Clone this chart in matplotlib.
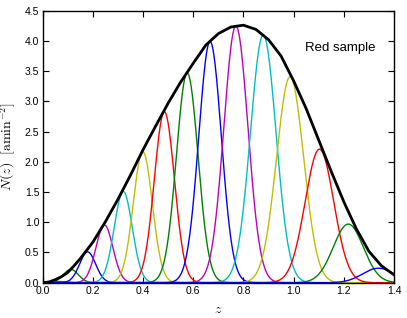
import numpy as np
import matplotlib
matplotlib.use("Agg")
import matplotlib.pyplot as plt

# Envelope N(z)
env_z = [0.00, 0.025, 0.05, 0.075, 0.10, 0.125, 0.15, 0.20, 0.25, 0.30, 0.35, 0.40, 0.45, 0.50,
         0.55, 0.60, 0.65, 0.70, 0.75, 0.80, 0.85, 0.90, 0.95, 1.00, 1.05, 1.10, 1.15, 1.20,
         1.25, 1.30, 1.35, 1.40]
env_n = [0.00, 0.012, 0.05, 0.10, 0.17, 0.28, 0.40, 0.67, 1.01, 1.38, 1.78, 2.20, 2.59, 2.97,
         3.32, 3.63, 3.93, 4.12, 4.23, 4.26, 4.19, 4.02, 3.75, 3.34, 2.88, 2.36, 1.84, 1.34,
         0.89, 0.52, 0.28, 0.13]

# Tomographic bins: centre, peak height, width
bin_centers = [0.062, 0.112, 0.179, 0.246, 0.321, 0.399, 0.485, 0.576, 0.667, 0.770,
               0.879, 0.986, 1.103, 1.218, 1.338]
bin_heights = [0.02, 0.22, 0.51, 0.955, 1.51, 2.17, 2.83, 3.47, 3.99, 4.25,
               4.10, 3.41, 2.21, 0.97, 0.24]
bin_widths = [0.028, 0.030, 0.032, 0.034, 0.036, 0.038, 0.040, 0.043, 0.045, 0.048,
              0.051, 0.054, 0.057, 0.060, 0.063]
bin_colors = ['r', 'g', 'b', 'm', 'c', 'y']

x_ticks = [0.0, 0.2, 0.4, 0.6, 0.8, 1.0, 1.2, 1.4]
y_ticks = [0.0, 0.5, 1.0, 1.5, 2.0, 2.5, 3.0, 3.5, 4.0, 4.5]

plt.rcParams['font.family'] = ['Liberation Sans', 'DejaVu Sans']
plt.rcParams['mathtext.fontset'] = 'cm'

fig = plt.figure(figsize=(4.07, 3.18), dpi=100)
ax = fig.add_axes([0.1049, 0.111, 0.8631, 0.8554])

zz = np.linspace(0, 1.4, 700)
for i, (c, h, s) in enumerate(zip(bin_centers, bin_heights, bin_widths)):
    ax.plot(zz, h * np.exp(-0.5 * ((zz - c) / s) ** 2), color=bin_colors[i % len(bin_colors)], lw=1.0)

ax.plot(env_z, env_n, color='k', lw=2.0, solid_joinstyle='round')

ax.text(1.185, 3.89, 'Red sample', ha='center', va='center', fontsize=9.5)

ax.set_xlim(0, 1.4)
ax.set_ylim(0, 4.5)
ax.set_xticks(x_ticks)
ax.set_yticks(y_ticks)
ax.set_xticklabels([f'{v:.1f}' for v in x_ticks])
ax.set_yticklabels([f'{v:.1f}' for v in y_ticks])
ax.tick_params(direction='in', top=True, right=True, labelsize=7.5, length=4, width=0.8, pad=2.5)
for sp in ax.spines.values():
    sp.set_linewidth(1.0)
ax.set_xlabel('$z$', fontsize=10, labelpad=4)
ax.set_ylabel(r'$N(z)\ \ [\mathrm{amin}^{-2}]$', fontsize=10, labelpad=5)

fig.savefig('out.png', dpi=100)
